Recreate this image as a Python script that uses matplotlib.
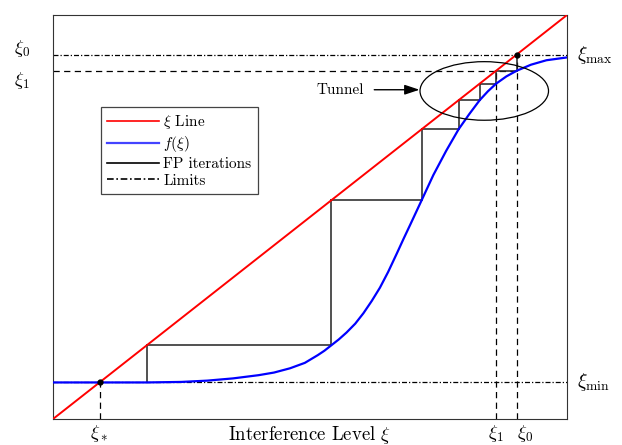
import matplotlib
matplotlib.use("Agg")
import matplotlib.pyplot as plt
from matplotlib.lines import Line2D
from matplotlib.patches import Ellipse
import matplotlib.transforms as mtransforms

plt.rcParams['font.family'] = 'serif'
plt.rcParams['font.serif'] = ['cmr10']
plt.rcParams['mathtext.fontset'] = 'cm'
plt.rcParams['axes.unicode_minus'] = False

# identity line xi -> xi
xi_line = [0.0, 1.0]

# samples of the interference map f(xi)
xi_samples = [0.0, 0.183, 0.25, 0.30, 0.35, 0.40, 0.43, 0.461, 0.49, 0.515,
              0.528, 0.541, 0.556, 0.571, 0.588, 0.604, 0.620, 0.636, 0.652,
              0.669, 0.682, 0.695, 0.717, 0.740, 0.765, 0.789, 0.810, 0.830,
              0.846, 0.862, 0.882, 0.902, 0.93, 0.96, 1.0]
f_samples = [0.0905, 0.0905, 0.0918, 0.0950, 0.1005, 0.1085, 0.115, 0.1255,
             0.139, 0.158, 0.169, 0.182, 0.197, 0.214, 0.236, 0.262, 0.292,
             0.325, 0.364, 0.410, 0.446, 0.481, 0.541, 0.604, 0.664, 0.717,
             0.755, 0.789, 0.811, 0.830, 0.848, 0.862, 0.877, 0.888, 0.895]

# limits and fixed point iterates xi_0, xi_1, ...
xi_min = 0.0905
xi_max = 0.902
fp_iterates = [0.902, 0.862, 0.830, 0.789, 0.717, 0.541, 0.182, 0.0905]
xi_star = xi_min
xi0, xi1 = fp_iterates[0], fp_iterates[1]

fig = plt.figure(figsize=(6.22, 4.45), dpi=100)
ax = fig.add_axes([0.0852, 0.0584, 0.8264, 0.9079])
ax.set_xlim(0, 1)
ax.set_ylim(0, 1)
ax.set_xticks([])
ax.set_yticks([])
for s in ax.spines.values():
    s.set_linewidth(0.8)
    s.set_color('#333333')

dashed = (0, (5, 3.5))
dashdot = (0, (4, 1.6, 1, 1.6))

# limit lines
ax.plot(xi_line, [xi_max, xi_max], color='k', lw=0.9, ls=dashdot, zorder=2)
ax.plot(xi_line, [xi_min, xi_min], color='k', lw=0.9, ls=dashdot, zorder=2)

# guide lines for xi_0, xi_1 and xi_*
ax.plot([0, xi0], [xi1, xi1], color='k', lw=0.9, ls=dashed, zorder=2)
ax.plot([xi1, xi1], [0, xi1], color='k', lw=0.9, ls=dashed, zorder=2)
ax.plot([xi0, xi0], [0, xi0], color='k', lw=0.9, ls=dashed, zorder=2)
ax.plot([xi_star, xi_star], [0, xi_star], color='k', lw=0.9, ls=dashed, zorder=2)

# staircase of the fixed point iterations
for a, b in zip(fp_iterates[:-1], fp_iterates[1:]):
    ax.plot([a, a], [a, b], color='#222222', lw=1.1, zorder=3)
    if b != xi_min:
        ax.plot([a, b], [b, b], color='#222222', lw=1.1, zorder=3)

ax.plot(xi_line, xi_line, color='red', lw=1.4, zorder=4)
ax.plot(xi_samples, f_samples, color='blue', lw=1.6, zorder=4,
        solid_joinstyle='round')

ax.plot([xi_star, xi0], [xi_star, xi0], 'o', color='k', ms=3.5, ls='none', zorder=5)

# tunnel highlight
ax.add_patch(Ellipse((0.839, 0.812), 0.25, 0.145, fill=False, ec='k', lw=0.9, zorder=5))
ax.annotate('', xy=(0.713, 0.815), xytext=(0.625, 0.815),
            arrowprops=dict(arrowstyle='-|>,head_length=0.9,head_width=0.3',
                            color='k', lw=1.0, shrinkA=0, shrinkB=0))
ax.text(0.605, 0.815, 'Tunnel', fontsize=11, ha='right', va='center')

# labels around the frame
xt = mtransforms.blended_transform_factory(ax.transData, ax.transAxes)
yt = mtransforms.blended_transform_factory(ax.transAxes, ax.transData)
ax.text(1.02, xi_max, r'$\xi_{\max}$', transform=yt, fontsize=14, va='center', ha='left')
ax.text(1.02, xi_min, r'$\xi_{\min}$', transform=yt, fontsize=14, va='center', ha='left')
ax.text(-0.045, 0.918, r'$\xi_0$', transform=yt, fontsize=13.5, va='center', ha='right')
ax.text(-0.045, 0.838, r'$\xi_1$', transform=yt, fontsize=13.5, va='center', ha='right')
ax.text(xi_star, -0.037, r'$\xi_*$', transform=xt, fontsize=13.5, va='center', ha='center')
ax.text(xi1, -0.037, r'$\xi_1$', transform=xt, fontsize=13.5, va='center', ha='center')
ax.text(xi0 + 0.017, -0.037, r'$\xi_0$', transform=xt, fontsize=13.5, va='center', ha='center')
ax.text(0.5, -0.04, r'Interference Level $\xi$', transform=ax.transAxes,
        fontsize=13.5, va='center', ha='center')

handles = [Line2D([], [], color='red', lw=1.2),
           Line2D([], [], color='#4444ff', lw=1.6),
           Line2D([], [], color='k', lw=1.2),
           Line2D([], [], color='k', lw=1.2, ls=dashdot)]
labels = [r'$\xi$ Line', r'$f(\xi)$', 'FP iterations', 'Limits']
leg = ax.legend(handles, labels, loc='upper left', bbox_to_anchor=(0.093, 0.772),
                borderaxespad=0, fontsize=11, handlelength=3.4, handletextpad=0.3,
                labelspacing=0.2, borderpad=0.4, fancybox=False, framealpha=1)
leg.get_frame().set_edgecolor('#444444')
leg.get_frame().set_linewidth(0.9)

fig.savefig('out.png', dpi=100)
